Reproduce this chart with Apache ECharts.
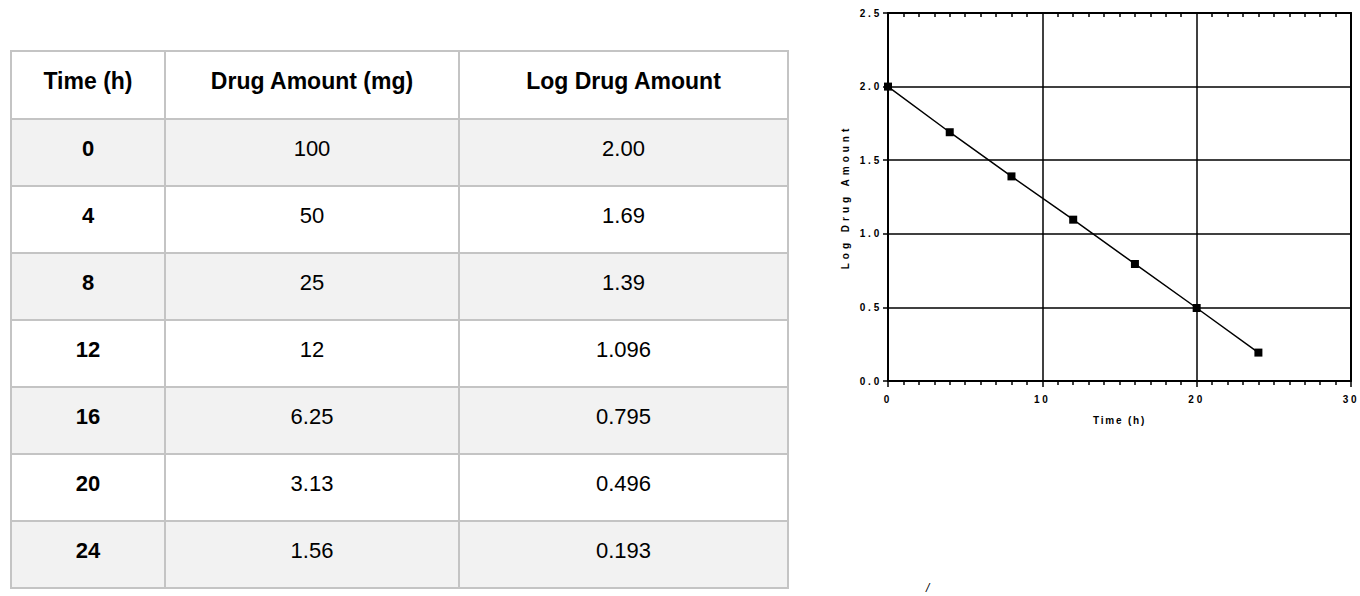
<!DOCTYPE html>
<html>
<head>
<meta charset="utf-8">
<script src="https://cdn.jsdelivr.net/npm/echarts@6/dist/echarts.min.js"></script>
<style>
  html, body { margin: 0; padding: 0; background: #fff; width: 1360px; height: 596px; overflow: hidden; }
  #chart { position: absolute; left: 0; top: 0; width: 1360px; height: 596px; }
  #tbl { position: absolute; left: 10px; top: 50px; border-collapse: collapse; table-layout: fixed;
         font-family: "Liberation Sans", Arial, sans-serif; font-size: 22px; color: #000; }
  #tbl td, #tbl th { border: 2px solid #c4c4c4; text-align: center; padding: 0 0 8px 0; }
  #tbl th { font-weight: bold; height: 58px; background: #fff; font-size: 23px; }
  #tbl td { height: 57px; }
  #tbl td.b { font-weight: bold; }
  #tbl tr.g td { background: #f2f2f2; }
</style>
</head>
<body>
<div id="chart"></div>
<table id="tbl">
  <colgroup><col style="width:154px"><col style="width:294px"><col style="width:329px"></colgroup>
  <thead><tr id="hdr"></tr></thead>
  <tbody id="body"></tbody>
</table>
<script>
// ---- data ----
var headers = ["Time (h)", "Drug Amount (mg)", "Log Drug Amount"];
var timeH = [0, 4, 8, 12, 16, 20, 24];
var drugAmount = ["100", "50", "25", "12", "6.25", "3.13", "1.56"];
var logDrugAmount = ["2.00", "1.69", "1.39", "1.096", "0.795", "0.496", "0.193"];
var xTicks = [0, 10, 20, 30];
var yTicks = [0, 0.5, 1.0, 1.5, 2.0, 2.5];
var xName = "Time (h)";
var yName = "Log Drug Amount";

// ---- table ----
var hdr = document.getElementById('hdr');
headers.forEach(function (h) { var th = document.createElement('th'); th.textContent = h; hdr.appendChild(th); });
var body = document.getElementById('body');
timeH.forEach(function (t, i) {
  var tr = document.createElement('tr');
  if (i % 2 === 0) tr.className = 'g';
  var c1 = document.createElement('td'); c1.className = 'b'; c1.textContent = String(t);
  var c2 = document.createElement('td'); c2.textContent = drugAmount[i];
  var c3 = document.createElement('td'); c3.textContent = logDrugAmount[i];
  tr.appendChild(c1); tr.appendChild(c2); tr.appendChild(c3);
  body.appendChild(tr);
});

// ---- chart ----
var chart = echarts.init(document.getElementById('chart'), null, { renderer: 'svg' });
var FONT = '"Liberation Sans", Arial, sans-serif';
var lineBlack = { color: '#000', width: 1.5 };
var labelStyle = { fontSize: 10, fontWeight: 'bold', color: '#000', fontFamily: FONT };
var option = {
  animation: false,
  backgroundColor: 'transparent',
  grid: { left: 888, top: 13, width: 463, height: 368 },
  xAxis: [
    {
      type: 'value', min: xTicks[0], max: xTicks[xTicks.length - 1], interval: 10, position: 'bottom',
      axisLine: { show: true, onZero: false, lineStyle: { color: '#000', width: 2 } },
      axisTick: { show: true, length: 6, lineStyle: lineBlack },
      minorTick: { show: true, splitNumber: 10, length: 4, lineStyle: lineBlack },
      splitLine: { show: true, lineStyle: lineBlack },
      axisLabel: Object.assign({ margin: 13 }, labelStyle),
      name: xName, nameLocation: 'middle', nameGap: 34,
      nameTextStyle: Object.assign({}, labelStyle)
    },
    {
      type: 'value', min: xTicks[0], max: xTicks[xTicks.length - 1], interval: 10, position: 'top',
      axisLine: { show: true, onZero: false, lineStyle: { color: '#000', width: 2 } },
      axisTick: { show: false, inside: true, length: 4, lineStyle: lineBlack },
      minorTick: { show: true, splitNumber: 10, length: 4, lineStyle: lineBlack },
      splitLine: { show: false },
      axisLabel: { show: false }
    }
  ],
  yAxis: [
    {
      type: 'value', min: yTicks[0], max: yTicks[yTicks.length - 1], interval: 0.5, position: 'left',
      axisLine: { show: true, onZero: false, lineStyle: { color: '#000', width: 2 } },
      axisTick: { show: true, length: 5, lineStyle: lineBlack },
      splitLine: { show: true, lineStyle: lineBlack },
      axisLabel: Object.assign({ margin: 6, formatter: function (v) { return v.toFixed(1); } }, labelStyle),
      name: yName, nameLocation: 'middle', nameGap: 38, nameRotate: 90,
      nameTextStyle: Object.assign({}, labelStyle)
    },
    {
      type: 'value', min: yTicks[0], max: yTicks[yTicks.length - 1], interval: 0.5, position: 'right',
      axisLine: { show: true, onZero: false, lineStyle: { color: '#000', width: 2 } },
      axisTick: { show: false }, axisLabel: { show: false }, splitLine: { show: false }
    }
  ],
  series: [{
    type: 'line', xAxisIndex: 0, yAxisIndex: 0,
    data: timeH.map(function (t, i) { return [t, parseFloat(logDrugAmount[i])]; }),
    symbol: 'rect', symbolSize: 8,
    itemStyle: { color: '#000' },
    lineStyle: { color: '#000', width: 1.5 },
    z: 5
  }],
  graphic: [{
    type: 'text', left: 926, top: 582,
    style: { text: '/', fontSize: 12, fontStyle: 'italic', fill: '#000', fontFamily: FONT }
  }]
};
chart.setOption(option);

// letter spacing like the original's spaced-out axis lettering
function spaceText() {
  var texts = document.querySelectorAll('#chart svg text');
  texts.forEach(function (t) {
    var s = t.textContent;
    var ls = '2.8px';
    if (s === xName) ls = '1.8px';
    else if (s === yName) ls = '4px';
    else if (s === '/') ls = '0px';
    t.style.letterSpacing = ls;
  });
}
spaceText();
chart.on('finished', spaceText);
</script>
</body>
</html>
